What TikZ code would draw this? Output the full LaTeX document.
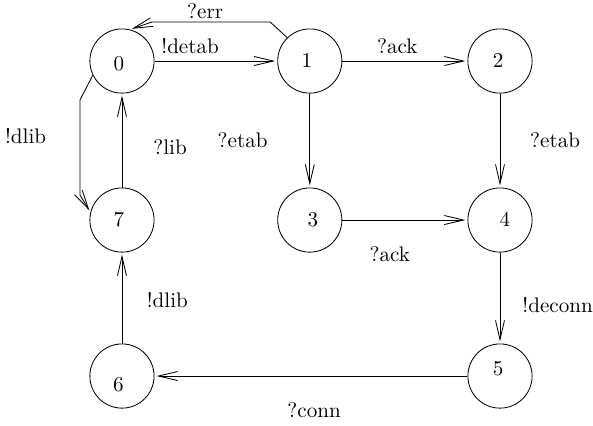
\documentclass[tikz,border=0pt]{standalone}
\usepackage{pgf, tikz}
\usetikzlibrary{positioning}
\usetikzlibrary{arrows.meta}

\begin{document}
\begin{tikzpicture}[mystate/.style={draw, circle, minimum size=1.07cm, inner sep=0pt, anchor=center},
  myarrow/.style={-{Straight Barb[length=0.32cm,width=0.15cm]}, shorten >=1pt}]

\useasboundingbox (-2.033,-0.817) rectangle (7.85,6.267);

\node [mystate, label={[yshift=-0.05cm, xshift=-0.05cm]center:$0$}] at (0,5.25) (n0) {};
\node [mystate, label={[xshift=-0.05cm]center:$1$}] at (3.13,5.25) (n1) {};
\node [mystate, label={[xshift=-0.03cm]center:$2$}] at (6.3,5.25) (n2) {};
\node [mystate, label={[xshift=-0.05cm]center:$7$}] at (0,2.6) (n7) {};
\node [mystate, label={[xshift=0.05cm]center:$3$}] at (3.13,2.6) (n3) {};
\node [mystate, label={[xshift=0.08cm]center:$4$}] at (6.3,2.6) (n4) {};
\node [mystate, label={[yshift=-0.15cm, xshift=-0.06cm]center:$6$}] at (0,0) (n6) {};
\node [mystate, label={[yshift=0.13cm, xshift=-0.03cm]center:$5$}] at (6.3,0) (n5) {};

%% top row
\draw[myarrow] (n0) -- node [above, pos=0.29] {!detab} (n1);
\draw[myarrow] (n1.134) -- (2.47,5.9) -- node [above, pos=0.55, yshift=-2pt] {?err} (0.5,5.9) -- (n0.76);
\draw[myarrow] (n1) -- node [above, pos=0.44] {?ack} (n2);
%% down the middle
\draw[myarrow] (n1) -- node [left=0.58cm] {?etab} (n3);
\draw[myarrow] (n2) -- node [right=0.38cm] {?etab} (n4);
\draw[myarrow] (n3) -- node [below=0.32cm, pos=0.38] {?ack} (n4);
\draw[myarrow] (n4) -- node [right=0.25cm, pos=0.58] {!deconn} (n5);
%% back to the start
\draw[myarrow] (n5) -- node [below=0.32cm, pos=0.49] {?conn} (n6);
\draw[myarrow] (n6) -- node [right=0.29cm, pos=0.48] {!dlib} (n7);
\draw[myarrow] (n7) -- node [right=0.4cm, pos=0.43] {?lib} (n0);
\draw[myarrow] (n0.206) -- (-0.7,4.6) -- node [left=0.44cm, pos=0.38] {!dlib} (-0.7,3.017) -- (n7.166);
\end{tikzpicture}
\end{document}
